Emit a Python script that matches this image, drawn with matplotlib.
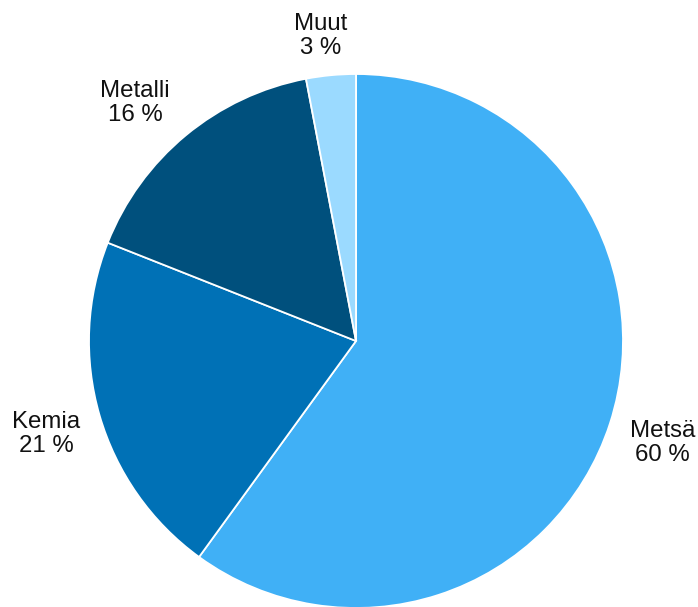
import matplotlib.pyplot as plt

plt.rcParams['font.family'] = ['Liberation Sans', 'DejaVu Sans']

categories = ["Metsä", "Kemia", "Metalli", "Muut"]
shares = [60, 21, 16, 3]
colors = ["#40B0F6", "#0071B6", "#00507D", "#9BDAFF"]

# label block centres, in pixels from the top-left corner
label_pos = [(662.5, 443), (46, 434), (135, 103), (321, 36)]

W, H = 698, 607
fig = plt.figure(figsize=(W / 100, H / 100), dpi=100)
ax = fig.add_axes([0, 0, 1, 1])

cx, cy, r = 356, H - 341, 267
wedges, _ = ax.pie(shares, colors=colors, startangle=90, counterclock=False,
                   center=(cx, cy), radius=r,
                   wedgeprops=dict(edgecolor='white', linewidth=1.3))
ax.set_xlim(0, W)
ax.set_ylim(0, H)
ax.set_aspect('equal')
ax.axis('off')

for (px, py), name, val in zip(label_pos, categories, shares):
    ax.text(px, H - py, f"{name}\n{val} %", ha='center', va='center',
            fontsize=17.3, color='#111111', linespacing=1.15)

fig.savefig("out.png", dpi=100)
